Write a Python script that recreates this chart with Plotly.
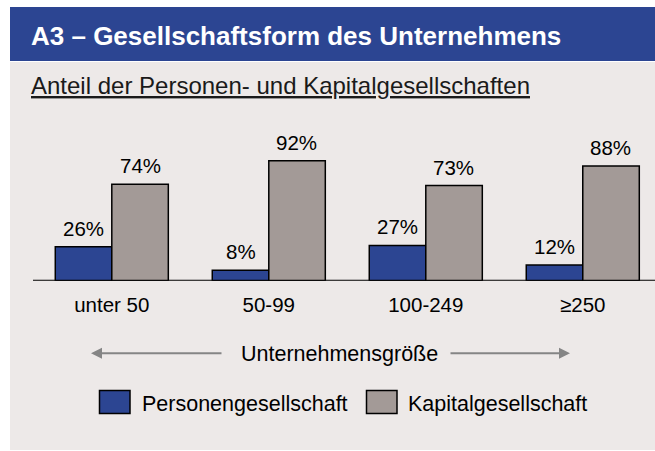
import plotly.graph_objects as go

categories = ["unter 50", "50-99", "100-249", "≥250"]
series_names = ["Personengesellschaft", "Kapitalgesellschaft"]
personen = [26, 8, 27, 12]
kapital = [74, 92, 73, 88]

title_text = "A3 – Gesellschaftsform des Unternehmens"
subtitle_text = "Anteil der Personen- und Kapitalgesellschaften"
axis_caption = "Unternehmensgröße"

W, H = 655, 451
BLUE = "#2C4592"
GREY = "#A39A97"
PANEL = "#EDE9E8"
FONT = "Liberation Sans, Arial, sans-serif"


def px(x):
    return x / W


def py(y):
    return 1 - y / H


fig = go.Figure()
for name, vals, col in [(series_names[0], personen, BLUE), (series_names[1], kapital, GREY)]:
    fig.add_trace(go.Bar(
        x=categories, y=vals, name=name,
        marker=dict(color=col, line=dict(color="black", width=1.5)),
        cliponaxis=False, showlegend=False, hoverinfo="skip",
    ))

shapes = [
    dict(type="rect", xref="paper", yref="paper", x0=px(10), x1=1, y0=py(61), y1=py(7),
         fillcolor=BLUE, line=dict(width=0), layer="below"),
    dict(type="rect", xref="paper", yref="paper", x0=px(10), x1=1, y0=py(450), y1=py(62),
         fillcolor=PANEL, line=dict(width=0), layer="below"),
    dict(type="line", xref="paper", yref="y", x0=px(33), x1=1, y0=0, y1=0,
         line=dict(color="black", width=2)),
    dict(type="rect", xref="paper", yref="paper", x0=px(99.5), x1=px(130), y0=py(413.5), y1=py(390.5),
         fillcolor=BLUE, line=dict(color="black", width=1.5)),
    dict(type="rect", xref="paper", yref="paper", x0=px(366.5), x1=px(397), y0=py(413.5), y1=py(390.5),
         fillcolor=GREY, line=dict(color="black", width=1.5)),
]

annotations = [
    dict(text=f"<b>{title_text}</b>", xref="paper", yref="paper", x=px(29), y=py(36),
         xanchor="left", yanchor="middle", showarrow=False,
         font=dict(size=26, color="white", family=FONT)),
    dict(text=f"<u>{subtitle_text}</u>", xref="paper", yref="paper", x=px(29), y=py(85.5),
         xanchor="left", yanchor="middle", showarrow=False,
         font=dict(size=24, color="#1a1a1a", family=FONT)),
    dict(text=axis_caption, xref="paper", yref="paper", x=px(339.5), y=py(353.5),
         xanchor="center", yanchor="middle", showarrow=False,
         font=dict(size=21.5, color="black", family=FONT)),
    dict(text="", xref="paper", yref="paper", x=px(91), y=py(353.3), ax=132, ay=0,
         axref="pixel", ayref="pixel", showarrow=True, arrowhead=2, arrowsize=1.1,
         arrowwidth=2, arrowcolor="#858585"),
    dict(text="", xref="paper", yref="paper", x=px(570), y=py(353.3), ax=-121, ay=0,
         axref="pixel", ayref="pixel", showarrow=True, arrowhead=2, arrowsize=1.1,
         arrowwidth=2, arrowcolor="#858585"),
    dict(text=series_names[0], xref="paper", yref="paper", x=px(140), y=py(404),
         xanchor="left", yanchor="middle", showarrow=False,
         font=dict(size=21.5, color="black", family=FONT)),
    dict(text=series_names[1], xref="paper", yref="paper", x=px(406), y=py(404),
         xanchor="left", yanchor="middle", showarrow=False,
         font=dict(size=21.5, color="black", family=FONT)),
]

# value labels placed on the data scale above each bar
for vals, shift in [(personen, -28.2), (kapital, 28.2)]:
    for c, v in zip(categories, vals):
        annotations.append(dict(
            text=f"{v}%", xref="x", yref="y", x=c, y=v, xshift=shift, yshift=5,
            xanchor="center", yanchor="bottom", showarrow=False,
            font=dict(size=20.5, color="black", family=FONT)))

fig.update_layout(
    width=W, height=H,
    margin=dict(l=0, r=0, t=0, b=0),
    paper_bgcolor="white", plot_bgcolor="rgba(0,0,0,0)",
    barmode="group", bargap=0.28, bargroupgap=0,
    font=dict(family=FONT, color="black"),
    shapes=shapes, annotations=annotations,
    xaxis=dict(domain=[px(33.3), 1], range=[-0.5, 3.46], showgrid=False,
               zeroline=False, showline=False, ticks="", ticklabelstandoff=10,
               tickfont=dict(size=20.5, color="black", family=FONT), fixedrange=True),
    yaxis=dict(domain=[py(280.7), py(150.3)], range=[0, 100], visible=False, fixedrange=True),
)

fig.write_html("out.html", config={"displayModeBar": False},
               post_script="document.body.style.margin='0';document.body.style.overflow='hidden';")
